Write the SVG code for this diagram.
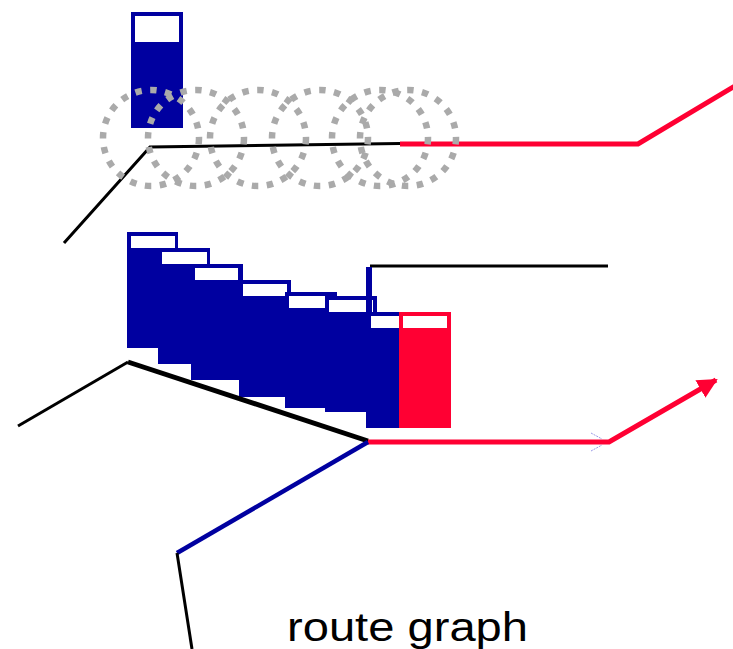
<svg xmlns="http://www.w3.org/2000/svg" width="733" height="649" viewBox="0 0 733 649">
  <style>
    .card { fill: #0000a0; }
    .slot { fill: #ffffff; }
    .red { fill: #ff0033; }
    .ring { fill: none; stroke: #aaaaaa; stroke-width: 6.5; stroke-dasharray: 6.5 8.5; }
    .blk { fill: none; stroke: #000000; stroke-width: 3; }
    .blk-thick { fill: none; stroke: #000000; stroke-width: 5; }
    .redline { fill: none; stroke: #ff0033; stroke-width: 5; }
    .blueline { fill: none; stroke: #0000a0; stroke-width: 4.5; }
    .ghost { fill: none; stroke: #8080e0; stroke-width: 0.8; stroke-dasharray: 2 1; }
    .label { font-family: "Liberation Sans", Arial, sans-serif; font-size: 40px; fill: #000000; }
  </style>
  <defs>
    <marker id="arrowRed" viewBox="0 0 10 10" refX="9" refY="5" markerWidth="4" markerHeight="4" markerUnits="strokeWidth" orient="auto">
      <path d="M0,0 L10,5 L0,10 z" fill="#ff0033"/>
    </marker>
  </defs>

  <rect width="733" height="649" fill="#ffffff"/>

  <!-- single stop at the top -->
  <g id="stop-top">
    <rect class="card" x="131" y="12" width="52" height="116"/>
    <rect class="slot" x="135" y="16" width="44" height="26"/>
  </g>

  <!-- stacked stops forming the staircase -->
  <g id="stop-1">
    <rect class="card" x="127" y="232" width="51" height="116"/>
    <rect class="slot" x="131" y="236" width="44" height="12"/>
  </g>
  <g id="stop-2">
    <rect class="card" x="158" y="248" width="52" height="116"/>
    <rect class="slot" x="162" y="252" width="45" height="12"/>
  </g>
  <g id="stop-3">
    <rect class="card" x="191" y="264" width="52" height="116"/>
    <rect class="slot" x="195" y="268" width="43" height="12"/>
  </g>
  <g id="stop-4">
    <rect class="card" x="239" y="280" width="52" height="117"/>
    <rect class="slot" x="243" y="284" width="44" height="12"/>
  </g>
  <g id="stop-5">
    <rect class="card" x="285" y="292" width="52" height="116"/>
    <rect class="slot" x="289" y="296" width="36" height="12"/>
  </g>
  <g id="stop-6">
    <rect class="card" x="325" y="296" width="52" height="116"/>
    <rect class="slot" x="329" y="300" width="44" height="12"/>
  </g>
  <g id="stop-7">
    <rect class="card" x="366" y="312" width="40" height="116"/>
    <rect class="slot" x="371" y="316" width="30" height="12"/>
  </g>
  <g id="stop-current">
    <rect class="red" x="399" y="312" width="52" height="116"/>
    <rect class="slot" x="403" y="316" width="44" height="12"/>
  </g>

  <!-- route connectors -->
  <g id="connectors">
    <!-- upper route -->
    <polyline class="blk" points="64,243 150,147 400,143.5"/>
    <polyline class="redline" points="400,144 638,144 745,80"/>

    <!-- lower route -->
    <polyline class="blk" points="18,426 128,362"/>
    <line class="blk-thick" x1="128" y1="362" x2="368" y2="441"/>
    <polyline class="blk" points="370,266 608,266"/>
    <line x1="369" y1="267" x2="369" y2="314" stroke="#0000a0" stroke-width="6"/>
    <polyline class="redline" points="368,442 609,442 716,380" marker-end="url(#arrowRed)"/>
    <polyline class="blueline" points="368,442 177,553"/>
    <polyline class="blk" points="177,553 192,649"/>
    <polyline class="ghost" points="591,433 602,439"/>
    <polyline class="ghost" points="591,451 602,445"/>
  </g>

  <!-- catchment rings around the upper stops -->
  <g id="rings">
    <circle class="ring" cx="151" cy="138" r="48"/>
    <circle class="ring" cx="196" cy="138" r="48"/>
    <circle class="ring" cx="258" cy="138" r="48"/>
    <circle class="ring" cx="320" cy="138" r="48"/>
    <circle class="ring" cx="380" cy="138" r="48"/>
    <circle class="ring" cx="408" cy="138" r="48"/>
  </g>

  <g id="caption">
    <text class="label" x="287" y="641" textLength="241" lengthAdjust="spacingAndGlyphs">route graph</text>
  </g>
</svg>
